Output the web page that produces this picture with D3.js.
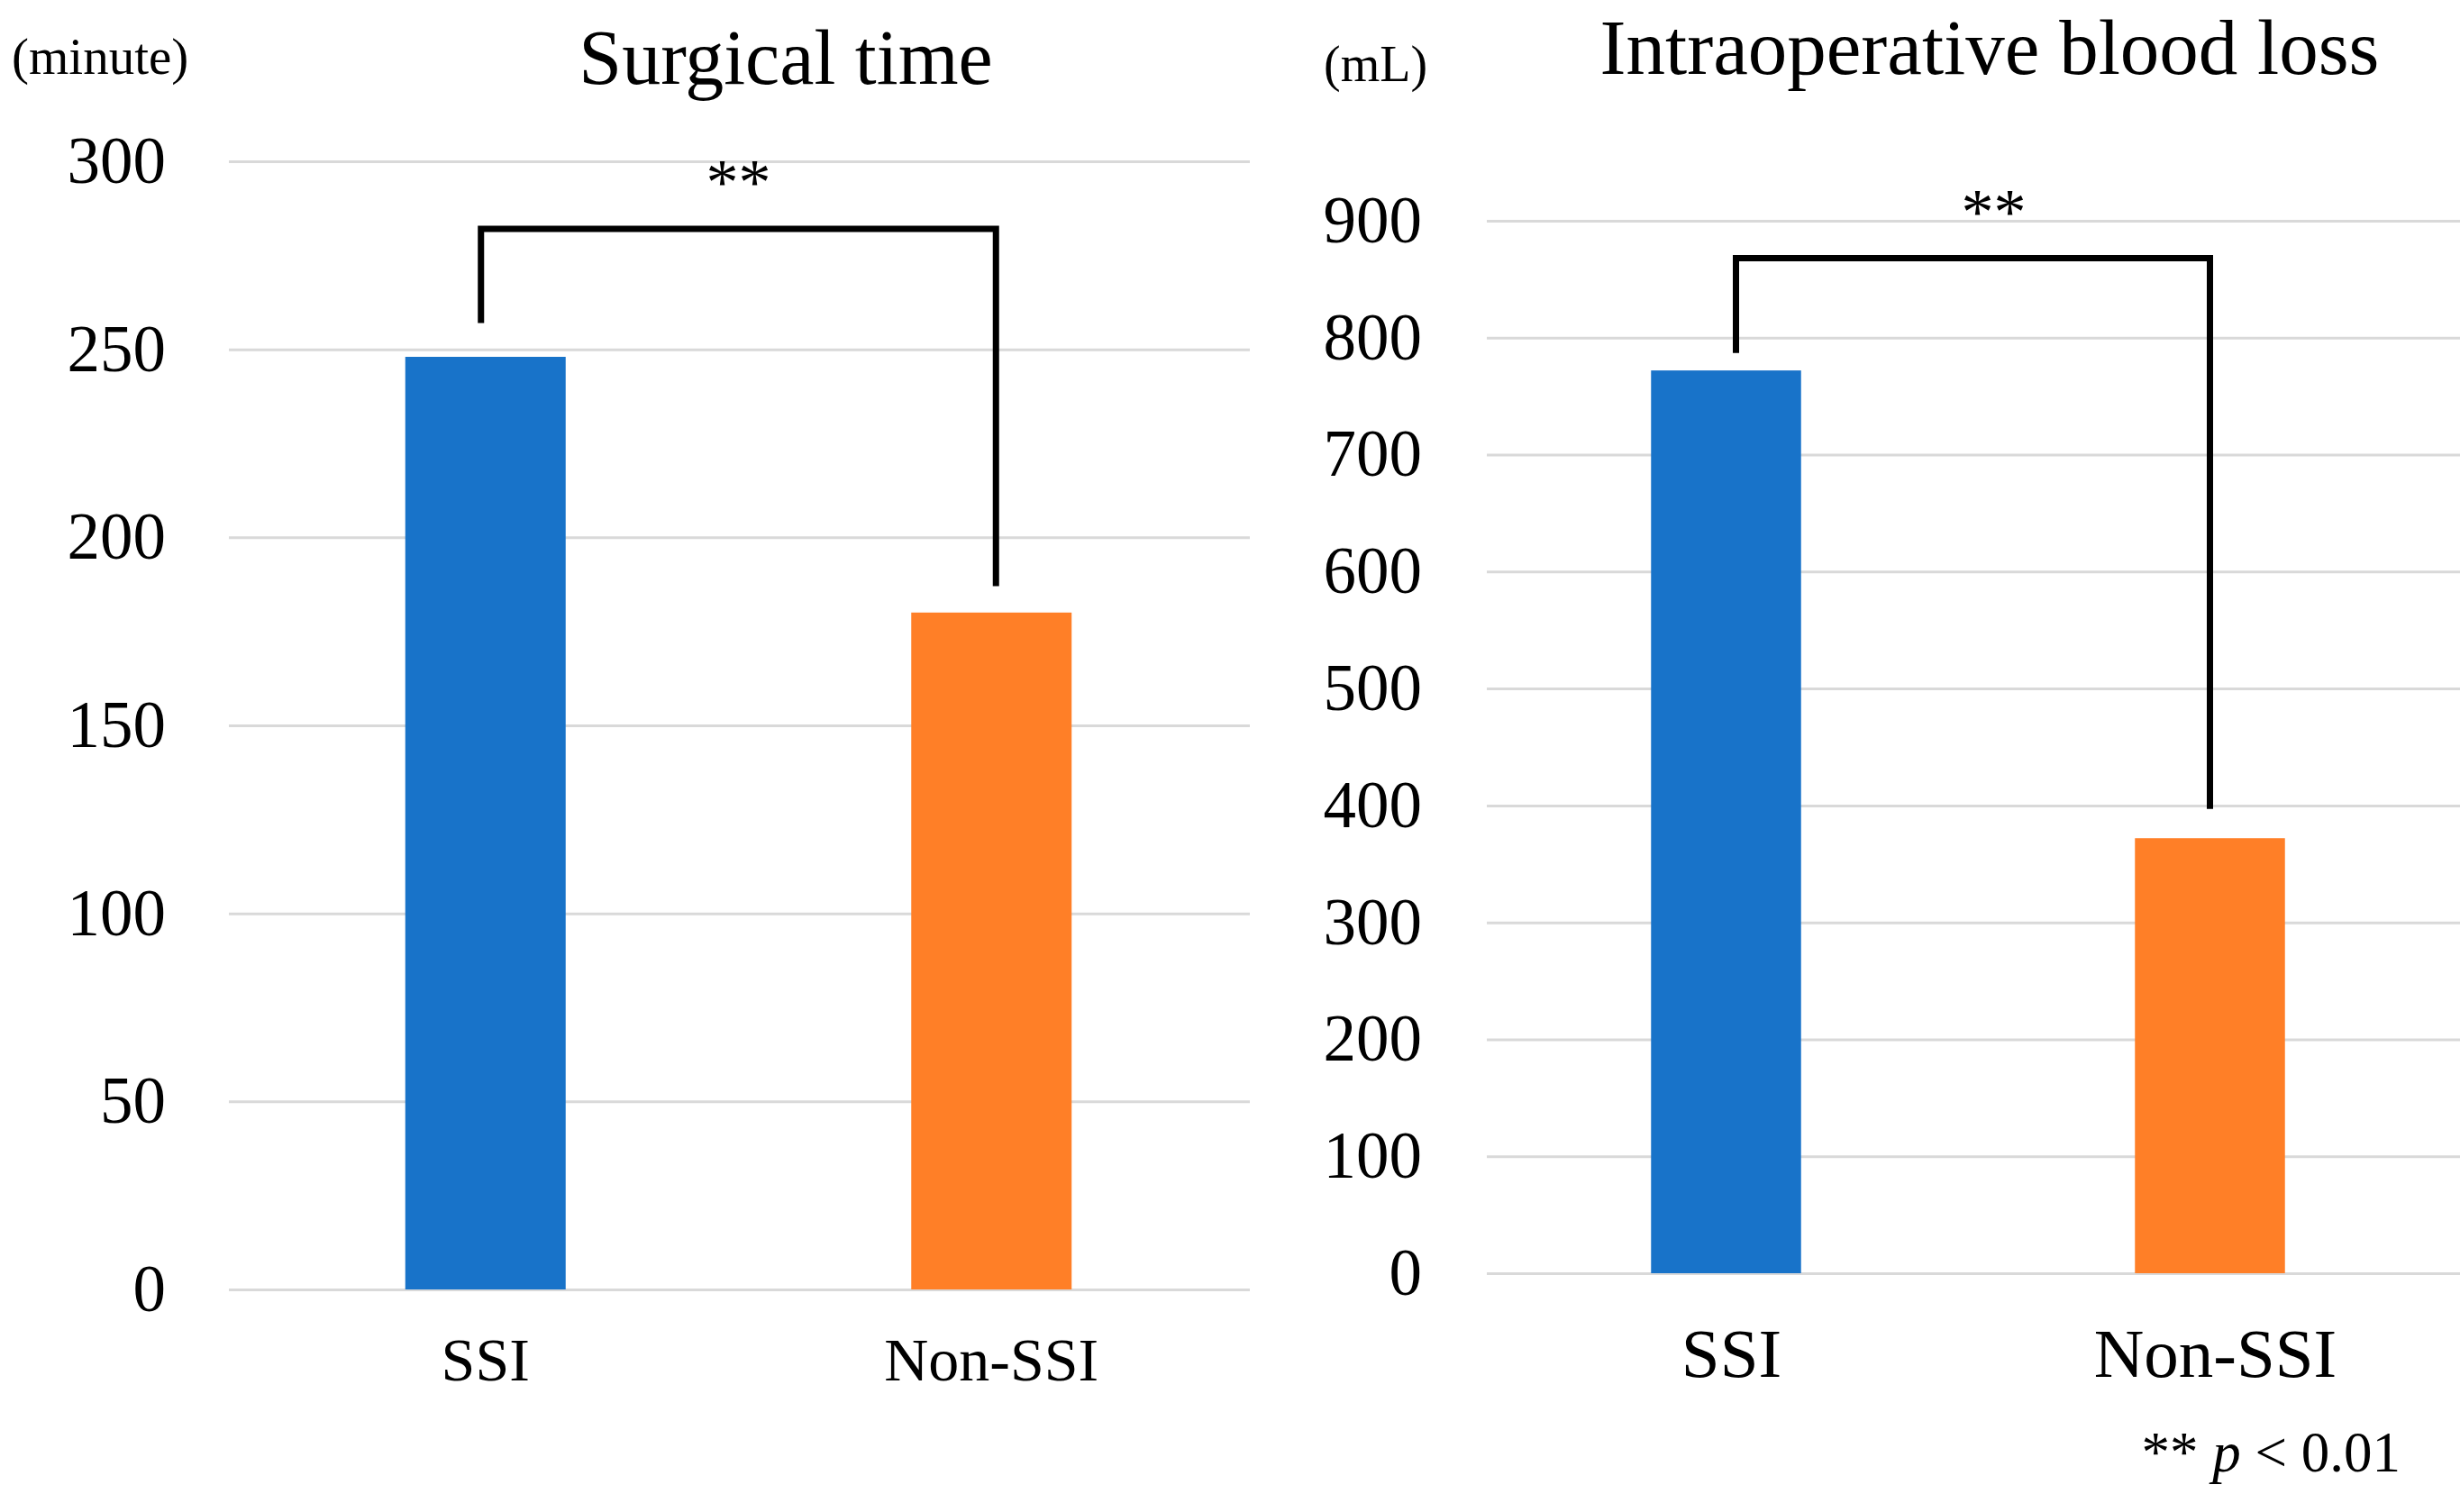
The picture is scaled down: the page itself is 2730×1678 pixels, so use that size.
<!DOCTYPE html>
<html>
<head>
<meta charset="utf-8">
<script src="https://cdn.jsdelivr.net/npm/d3@7"></script>
<style>
  body { margin: 0; background: #fff; }
  svg { display: block; font-family: "Liberation Serif", "Times New Roman", serif; }
  .grid line { stroke: #d9d9d9; stroke-width: 3; }
  .grid path { display: none; }
  .ticks path, .ticks line { display: none; }
  .ticks text { fill: #000; }
</style>
</head>
<body>
<svg class="chart"></svg>
<script>
// data
const categories = ["SSI", "Non-SSI"];
const barColors = ["#1873C9", "#FF7F27"];

const surgicalTime = [248, 180];
const timeTicks = [0, 50, 100, 150, 200, 250, 300];
const timeBracket = [257, 282, 187]; // left end, top, right end

const bloodLoss = [772, 372];
const lossTicks = [0, 100, 200, 300, 400, 500, 600, 700, 800, 900];
const lossBracket = [787, 868, 397];

const WIDTH = 2730, HEIGHT = 1678;

const CHART = d3.select(".chart")
    .attr("width", WIDTH)
    .attr("height", HEIGHT);

// one panel = one bar chart with its own layout
function draw_panel(p) {
    const x = d3.scaleBand().domain(categories)
        .range([p.left, p.right])
        .paddingInner(p.pad).paddingOuter(p.pad / 2);
    const y = d3.scaleLinear().domain([0, d3.max(p.ticks)])
        .range([p.bottom, p.top]);

    const g = CHART.append("g");

    g.append("g").attr("class", "grid")
        .attr("transform", `translate(${p.gridLeft},0)`)
        .call(d3.axisLeft(y).tickValues(p.ticks).tickSize(-(p.gridRight - p.gridLeft)).tickFormat(""));

    g.append("g").attr("class", "ticks")
        .attr("transform", `translate(${p.tickX},0)`)
        .call(d3.axisLeft(y).tickValues(p.ticks).tickSize(0).tickPadding(0))
        .selectAll("text")
        .attr("font-family", "Liberation Serif, serif")
        .attr("font-size", p.tickFont);

    g.selectAll(".bar").data(p.values).join("rect")
        .attr("class", "bar")
        .attr("x", (d, i) => x(categories[i]))
        .attr("width", x.bandwidth())
        .attr("y", d => y(d))
        .attr("height", d => y(0) - y(d))
        .attr("fill", (d, i) => barColors[i]);

    // category labels
    g.selectAll(".cat").data(categories).join("text")
        .attr("class", "cat")
        .attr("x", d => x(d) + x.bandwidth() / 2 + p.catDx)
        .attr("y", p.catY)
        .attr("text-anchor", "middle")
        .attr("font-size", p.catFont)
        .text(d => d);

    // significance bracket
    const cx = categories.map((c, i) => x(c) + x.bandwidth() / 2 + p.bracketDx[i]);
    const pts = [[cx[0], p.bracket[0]], [cx[0], p.bracket[1]], [cx[1], p.bracket[1]], [cx[1], p.bracket[2]]];
    g.append("path")
        .attr("d", d3.line().x(d => d[0]).y(d => y(d[1]))(pts))
        .attr("fill", "none")
        .attr("stroke", "#000")
        .attr("stroke-width", 7);

    g.append("text")
        .attr("x", (cx[0] + cx[1]) / 2 + p.starDx)
        .attr("y", y(p.bracket[1]) - p.starGap)
        .attr("text-anchor", "middle")
        .attr("font-size", 72)
        .text("**");

    g.append("text")
        .attr("x", p.titleX).attr("y", p.titleY)
        .attr("text-anchor", "middle")
        .attr("font-size", p.titleFont)
        .text(p.title);

    g.append("text")
        .attr("x", p.unitX).attr("y", p.unitY)
        .attr("font-size", p.unitFont)
        .text(p.unit);
}

draw_panel({
    values: surgicalTime, ticks: timeTicks, bracket: timeBracket,
    left: 258, right: 1381, top: 179, bottom: 1431, pad: 0.683,
    gridLeft: 254, gridRight: 1387,
    tickX: 184, tickFont: 73, catY: 1532, catDx: 0, catFont: 68,
    bracketDx: [-5, 5], starDx: 0, starGap: 28,
    title: "Surgical time", titleX: 872, titleY: 93, titleFont: 86,
    unit: "(minute)", unitX: 13, unitY: 82, unitFont: 57
});

draw_panel({
    values: bloodLoss, ticks: lossTicks, bracket: lossBracket,
    left: 1647, right: 2721, top: 245, bottom: 1413, pad: 0.69,
    gridLeft: 1650, gridRight: 2730,
    tickX: 1578, tickFont: 73, catY: 1528, catDx: 6, catFont: 77,
    bracketDx: [11, 0], starDx: 23, starGap: 28,
    title: "Intraoperative blood loss", titleX: 2208, titleY: 82, titleFont: 87,
    unit: "(mL)", unitX: 1469, unitY: 90, unitFont: 56
});

// footnote
const note = CHART.append("text")
    .attr("x", 2664).attr("y", 1633)
    .attr("text-anchor", "end")
    .attr("font-size", 63);
note.append("tspan").text("** ");
note.append("tspan").attr("font-style", "italic").text("p");
note.append("tspan").text(" < 0.01");
</script>
</body>
</html>
